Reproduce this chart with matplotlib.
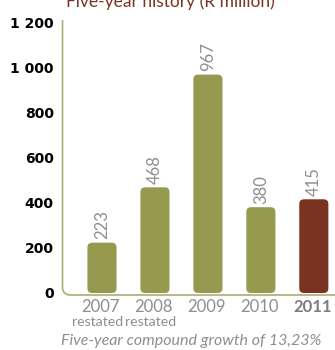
import matplotlib.pyplot as plt
from matplotlib.patches import FancyBboxPatch, PathPatch
from matplotlib.path import Path
from matplotlib import transforms

years = ['2007', '2008', '2009', '2010', '2011']
sublabels = ['restated', 'restated', '', '', '']
values = [223, 468, 967, 380, 415]
yticks = [0, 200, 400, 600, 800, 1000, 1200]
ytick_labels = ['0', '200', '400', '600', '800', '1 000', '1 200']

OLIVE = '#959a4f'
BROWN = '#7b3321'
AXIS = '#aaae72'
GREY = '#8e8e8e'

W, H = 335, 350
fig = plt.figure(figsize=(W / 100, H / 100), dpi=100)
plt.rcParams['font.family'] = ['Lato', 'DejaVu Sans']

def fx(x):
    return x / W

def fy(y):
    return 1 - y / H

ax = fig.add_axes([fx(62), fy(293), 1 - fx(62), 271 / H])
ax.set_xlim(-0.755, 4.4)
ax.set_ylim(0, 1200)
for s in ax.spines.values():
    s.set_visible(False)
ax.set_xticks([])
ax.set_yticks(yticks)
ax.set_yticklabels(ytick_labels, fontsize=10, fontweight='bold',
                   color='black', family='DejaVu Sans')
ax.tick_params(axis='y', length=0, pad=6)

# rounded bars; aspect factor keeps the corners circular in pixels
bw = 0.55
aspect = (1200 / 271) / (1 / 53)
for i, v in enumerate(values):
    color = BROWN if i == len(values) - 1 else OLIVE
    box = FancyBboxPatch((i - bw / 2, 0), bw, v,
                         boxstyle='round,pad=0,rounding_size=0.09',
                         mutation_aspect=aspect, fc=color, ec='none')
    ax.add_patch(box)
    ax.text(i, v + 16, str(v), rotation=90, ha='center', va='bottom',
            fontsize=12, color=GREY)

# axis line with rounded corner
verts = [(62.5, 20), (62.5, 287), (62.5, 295), (70.5, 295), (335, 295)]
codes = [Path.MOVETO, Path.LINETO, Path.CURVE3, Path.CURVE3, Path.LINETO]
path = Path([(fx(x), fy(y)) for x, y in verts], codes)
fig.add_artist(PathPatch(path, fc='none', ec=AXIS, lw=1.2,
                         transform=fig.transFigure))

# category labels under the bars
trans = transforms.blended_transform_factory(ax.transData, fig.transFigure)
shift = 4 / 53  # "restated" sits a little left of the year
for i, (yr, sub) in enumerate(zip(years, sublabels)):
    last = i == len(years) - 1
    ax.text(i - 0.03, fy(312), yr, transform=trans, ha='center', va='baseline',
            fontsize=12, color='#7d7d7d' if last else GREY,
            fontweight='bold' if last else 'normal', clip_on=False)
    if sub:
        ax.text(i - shift, fy(325.5), sub, transform=trans, ha='center',
                va='baseline', fontsize=10.2, color=GREY, clip_on=False)

fig.text(fx(170), fy(7), 'Five-year history (R million)', ha='center',
         va='baseline', fontsize=12.5, color=BROWN)
fig.text(fx(191), fy(345), 'Five-year compound growth of 13,23%',
         ha='center', va='baseline', fontsize=11.5, style='italic', color=GREY)

fig.savefig('out.png', dpi=100)
